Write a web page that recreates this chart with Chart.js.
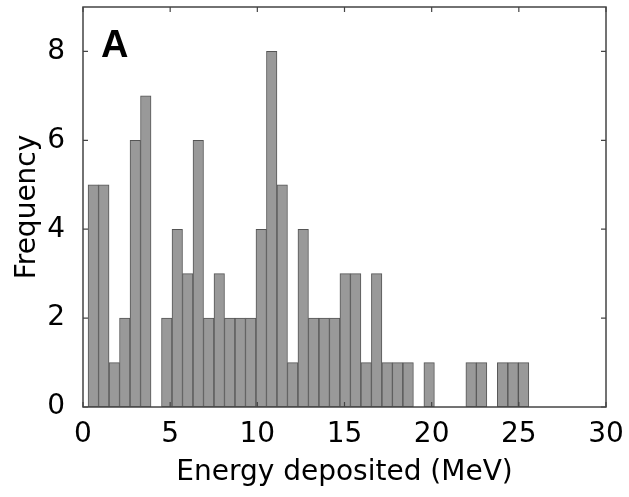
<!DOCTYPE html>
<html lang="en">
<head>
    <meta charset="UTF-8">
    <title>Energy deposited histogram</title>
    <script src="https://cdn.jsdelivr.net/npm/chart.js"></script>
    <style>
        body { margin: 0; background: #fff; }
        canvas { display: block; }
    </style>
</head>
<body>
    <canvas id="histChart" width="629" height="497"></canvas>

    <script>
        // histogram bins (MeV): first edge and bin width
        const binStart = 0.29;
        const binWidth = 0.602;
        // counts per bin, left to right
        const counts = [5, 5, 1, 2, 6, 7, 0, 2, 4, 3,
                        6, 2, 3, 2, 2, 2, 4, 8, 5, 1,
                        4, 2, 2, 2, 3, 3, 1, 3, 1, 1,
                        1, 0, 1, 0, 0, 0, 1, 1, 0, 1,
                        1, 1];
        const xTicks = [0, 5, 10, 15, 20, 25, 30];
        const yTicks = [0, 2, 4, 6, 8];

        const points = counts
            .map((c, i) => ({x: binStart + binWidth * (i + 0.5), y: c}))
            .filter(p => p.y > 0);

        Chart.defaults.font.family = "'DejaVu Sans', sans-serif";
        Chart.defaults.color = '#000';

        // axes box, inward tick marks on all four sides, panel letter
        const frame = {
            id: 'frame',
            afterDatasetsDraw(chart) {
                const {ctx, chartArea: a, scales: {x, y}} = chart;
                ctx.save();
                ctx.strokeStyle = '#444';
                ctx.lineWidth = 1.5;
                ctx.strokeRect(a.left, a.top, a.right - a.left, a.bottom - a.top);
                ctx.lineWidth = 1.2;
                ctx.beginPath();
                xTicks.forEach(v => {
                    const px = x.getPixelForValue(v);
                    ctx.moveTo(px, a.bottom); ctx.lineTo(px, a.bottom - 5);
                    ctx.moveTo(px, a.top); ctx.lineTo(px, a.top + 5);
                });
                yTicks.forEach(v => {
                    const py = y.getPixelForValue(v);
                    ctx.moveTo(a.left, py); ctx.lineTo(a.left + 5, py);
                    ctx.moveTo(a.right, py); ctx.lineTo(a.right - 5, py);
                });
                ctx.stroke();
                ctx.fillStyle = '#000';
                ctx.font = "bold 38px 'Liberation Sans', Arial, sans-serif";
                ctx.textBaseline = 'alphabetic';
                ctx.fillText('A', a.left + 18, a.top + 50);
                ctx.restore();
            }
        };

        new Chart(document.getElementById('histChart'), {
            type: 'bar',
            data: {
                datasets: [{
                    data: points,
                    backgroundColor: '#999999',
                    borderColor: '#555555',
                    borderWidth: 1,
                    borderSkipped: false,
                    barPercentage: 1,
                    categoryPercentage: 1
                }]
            },
            options: {
                responsive: false,
                animation: false,
                layout: {padding: {top: 7, right: 23, left: 0, bottom: 0}},
                plugins: {legend: {display: false}, tooltip: {enabled: false}},
                scales: {
                    x: {
                        type: 'linear',
                        offset: false,
                        min: 0,
                        max: 30,
                        grid: {display: false, offset: false},
                        border: {display: false},
                        ticks: {font: {size: 28}, padding: 3, maxRotation: 0},
                        afterBuildTicks: s => { s.ticks = xTicks.map(v => ({value: v})); },
                        afterFit: s => { s.height = 90; s.paddingLeft = 0; s.paddingRight = 0; },
                        title: {display: true, text: 'Energy deposited (MeV)', font: {size: 28}, padding: {top: 0, bottom: 7}}
                    },
                    y: {
                        min: 0,
                        max: 9,
                        grid: {display: false},
                        border: {display: false},
                        ticks: {font: {size: 28}, padding: 10},
                        afterBuildTicks: s => { s.ticks = yTicks.map(v => ({value: v})); },
                        afterFit: s => { s.width = 83; s.paddingTop = 0; s.paddingBottom = 0; },
                        title: {display: true, text: 'Frequency', font: {size: 28}, padding: {top: 11, bottom: 0}}
                    }
                }
            },
            plugins: [frame]
        });
    </script>
</body>
</html>
